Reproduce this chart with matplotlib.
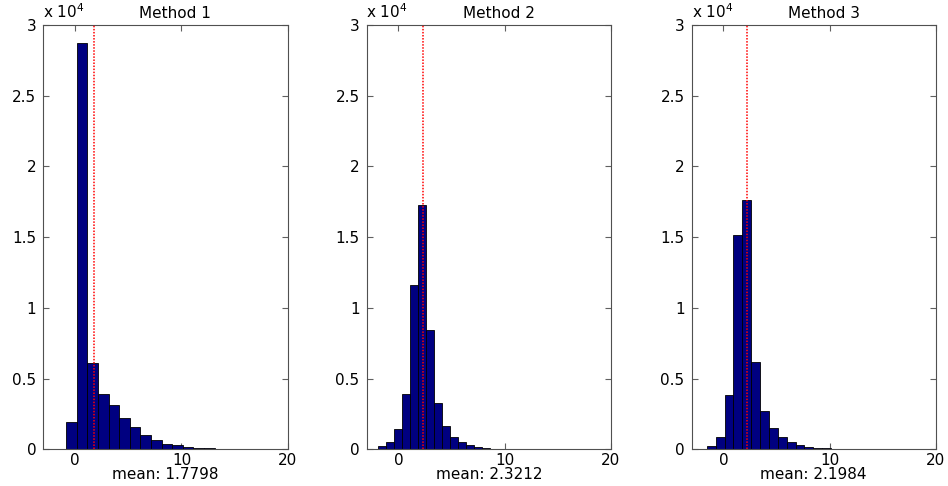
import numpy as np
import matplotlib
matplotlib.use("Agg")
import matplotlib.pyplot as plt

plt.rcParams['font.family'] = ['DejaVu Sans']

titles = ["Method 1", "Method 2", "Method 3"]
means = [1.7798, 2.3212, 2.1984]

# histogram range (lowest edge, highest edge) for 20 bins each
bin_lo = [-0.85, -2.68, -2.40]
bin_hi = [19.10, 12.42, 14.30]

counts_m1 = [1900, 28700, 6100, 3900, 3100, 2200, 1600, 1000, 680, 400,
             280, 160, 100, 60, 30, 20, 10, 10, 5, 5]
counts_m2 = [50, 200, 500, 1400, 3900, 11650, 17250, 8400, 3300, 1650,
             870, 500, 280, 160, 90, 40, 20, 10, 10, 5]
counts_m3 = [50, 200, 870, 3850, 15150, 17600, 6200, 2700, 1530, 870,
             500, 300, 170, 100, 60, 30, 20, 10, 10, 5]
all_counts = [counts_m1, counts_m2, counts_m3]

yticks = [0, 0.5, 1, 1.5, 2, 2.5, 3]
ytick_labels = ["0", "0.5", "1", "1.5", "2", "2.5", "3"]
xticks = [0, 10, 20]

fig = plt.figure(figsize=(9.48, 4.86), dpi=100)
W, H = 948, 486
lefts = [43.3, 366.5, 691.5]
aw = 244.5
top_px, bot_px = 25, 449.3

fs = 11
for i in range(3):
    ax = fig.add_axes([lefts[i] / W, 1 - bot_px / H, aw / W, (bot_px - top_px) / H])
    edges = np.linspace(bin_lo[i], bin_hi[i], len(all_counts[i]) + 1)
    vals = np.array(all_counts[i]) / 1e4
    ax.bar(edges[:-1], vals, width=np.diff(edges), align='edge',
           color='#000080', edgecolor='black', linewidth=0.6, zorder=2)
    ax.axvline(means[i], color='red', linestyle=(0, (1, 1)), linewidth=1.1, zorder=3)
    ax.set_xlim(-3, 20)
    ax.set_ylim(0, 3)
    ax.set_yticks(yticks)
    ax.set_yticklabels(ytick_labels, fontsize=fs)
    ax.set_xticks(xticks)
    ax.set_xticklabels([str(t) for t in xticks], fontsize=fs)
    ax.tick_params(direction='in', length=4, top=True, right=True,
                   color='#606060', width=0.8)
    ax.tick_params(axis='y', pad=5)
    ax.tick_params(axis='x', pad=3)
    for s in ax.spines.values():
        s.set_color('#505050')
        s.set_linewidth(0.8)
    ax.set_title(titles[i], fontsize=fs, pad=5, x=0.54)
    ax.set_xlabel(f"mean: {means[i]:.4f}", fontsize=fs, labelpad=-1)
    ax.text(0.0, 1.01, r"x 10$^4$", transform=ax.transAxes, fontsize=fs,
            ha='left', va='bottom')

fig.savefig("out.png", dpi=100)
